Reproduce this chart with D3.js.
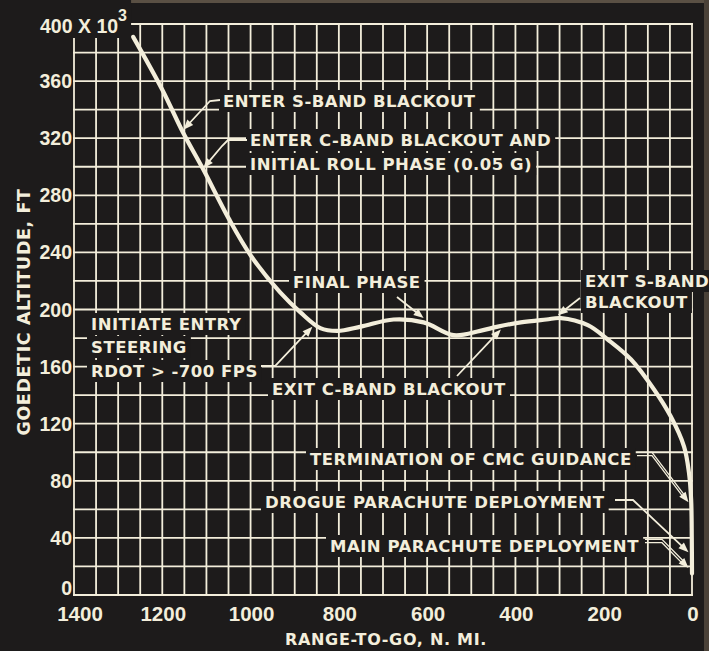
<!doctype html>
<html>
<head>
<script src="https://cdnjs.cloudflare.com/ajax/libs/d3/7.8.5/d3.min.js"></script>
<style>
  body { margin: 0; background: #1d1b1b; }
  svg { display: block; }
</style>
</head>
<body>
<svg width="709" height="651"></svg>
<script>
// trajectory: range-to-go (n. mi.) vs altitude (x 1000 ft)
var rangeToGo = [1266, 1200, 1153, 1107, 1050, 1000, 933, 887, 842, 803, 750, 676, 608, 540, 480, 440, 388, 330, 297, 236, 191, 138, 86, 48, 18, 7, 2, 0.5, 0];
var altitude  = [ 391,  354,  324,  298,  264,  238, 212, 198, 187, 185, 188, 193, 191, 182, 185, 188, 191, 193, 194, 189, 179, 165, 144, 125, 104, 86, 67, 40, 15];

var xTickLabels = [1400, 1200, 1000, 800, 600, 400, 200, 0];
var yTickLabels = [0, 40, 80, 120, 160, 200, 240, 280, 320, 360];

// events marked by arrows on the curve
var eventText = [
  ["ENTER S-BAND BLACKOUT"],
  ["ENTER C-BAND BLACKOUT AND", "INITIAL ROLL PHASE (0.05 G)"],
  ["FINAL PHASE"],
  ["INITIATE ENTRY", "STEERING", "RDOT > -700 FPS"],
  ["EXIT C-BAND BLACKOUT"],
  ["EXIT S-BAND", "BLACKOUT"],
  ["TERMINATION OF CMC GUIDANCE"],
  ["DROGUE PARACHUTE DEPLOYMENT"],
  ["MAIN PARACHUTE DEPLOYMENT"]
];
var eventRange = [1152, 1107, 608, 860, 433, 304, 8, 8, 8];
var eventAlt   = [ 326,  299, 194, 188, 186, 196, 65, 30, 19];

// label placement (pixels): text left x, baselines, leader waypoints, double leader
var labelLayout = [
  {x: 223, y: [107], leader: [[220, 100], [210, 101]]},
  {x: 250, y: [146, 170], leader: [[247, 140], [228, 140], [222, 146]]},
  {x: 293, y: [288], leader: [[397, 297]]},
  {x: 91, y: [330, 353, 377], leader: [[261, 366], [275, 366]]},
  {x: 272, y: [395], leader: [[457, 376]]},
  {x: 585, y: [287, 308], leader: [[580, 298]]},
  {x: 310, y: [465], leader: [[637, 454], [652, 454]], dbl: true},
  {x: 265, y: [508], leader: [[615, 500], [633, 500]]},
  {x: 330, y: [552], leader: [[645, 541], [662, 541]], dbl: true}
];

var ink = "#f3eedb", bg = "#1d1b1b";
var labelFont = "'DejaVu Sans', sans-serif";
var tickFont = "'Liberation Sans Narrow', 'Liberation Sans', sans-serif";

var svg = d3.select("svg");
svg.append("rect").attr("width", 709).attr("height", 651).attr("fill", bg);
// photo edge
svg.append("rect").attr("x", 0).attr("y", 0).attr("width", 709).attr("height", 3).attr("fill", "#5a5044");
svg.append("rect").attr("x", 704).attr("y", 0).attr("width", 5).attr("height", 651).attr("fill", "#4a4138");

var x = d3.scaleLinear().domain([1400, 0]).range([74, 692]);
var y = d3.scaleLinear().domain([0, 400]).range([595, 24]);

// grid
var grid = svg.append("g").attr("stroke", ink).attr("stroke-width", 1.8);
grid.selectAll(".v").data(d3.range(0, 1401, 50)).enter().append("line")
    .attr("x1", function(d) { return x(d); }).attr("x2", function(d) { return x(d); })
    .attr("y1", y(0) + 0.9).attr("y2", y(400) - 0.9);
grid.selectAll(".h").data(d3.range(0, 401, 20)).enter().append("line")
    .attr("y1", function(d) { return y(d); }).attr("y2", function(d) { return y(d); })
    .attr("x1", x(1400) - 0.9).attr("x2", x(0) + 0.9);

// curve
var line = d3.line()
    .x(function(d, i) { return x(rangeToGo[i]); })
    .y(function(d, i) { return y(altitude[i]); })
    .curve(d3.curveCatmullRom.alpha(0.5));
svg.append("path").datum(altitude).attr("d", line)
    .attr("fill", "none").attr("stroke", ink).attr("stroke-width", 4.2)
    .attr("stroke-linecap", "round");

// tick labels
svg.append("g").selectAll("text").data(yTickLabels).enter().append("text")
    .attr("x", 72).attr("y", function(d) { return y(d) + (d == 0 ? 0 : 7); })
    .attr("text-anchor", "end").attr("fill", ink)
    .attr("font-family", tickFont).attr("font-weight", "bold").attr("font-size", 19.5)
    .text(function(d) { return d; });

svg.append("g").selectAll("text").data(xTickLabels).enter().append("text")
    .attr("x", function(d) { return x(d) + (d == 1400 ? 6 : 1); }).attr("y", 621)
    .attr("text-anchor", "middle").attr("fill", ink)
    .attr("font-family", tickFont).attr("font-weight", "bold").attr("font-size", 20.5)
    .text(function(d) { return d; });

// top label "400 X 10^3" on a black patch
var topG = svg.append("g");
var topBox = topG.append("rect").attr("fill", bg);
var topText = topG.append("text").attr("x", 40).attr("y", 33).attr("fill", ink)
    .attr("font-family", tickFont).attr("font-weight", "bold").attr("font-size", 19.5);
topText.append("tspan").text("400 X 10");
topText.append("tspan").attr("dy", -12).attr("font-size", 16).text("3");
var tb = topText.node().getBBox();
topBox.attr("x", 0).attr("y", 0).attr("width", tb.x + tb.width + 4).attr("height", 38);

// annotations
var ann = svg.append("g");
eventText.forEach(function(lines, i) {
  var L = labelLayout[i];
  var g = ann.append("g");
  var boxes = g.append("g");
  var texts = lines.map(function(s, j) {
    return g.append("text").attr("x", L.x).attr("y", L.y[j]).attr("fill", ink)
      .attr("font-family", labelFont).attr("font-weight", "bold").attr("font-size", 16.5)
      .attr("letter-spacing", 0.5).text(s);
  });
  texts.forEach(function(t) {
    var b = t.node().getBBox();
    boxes.append("rect").attr("x", b.x - 4).attr("y", b.y - 2)
      .attr("width", b.width + 8).attr("height", b.height + 3).attr("fill", bg);
  });
  var tip = [x(eventRange[i]), y(eventAlt[i])];
  var pts = L.leader.concat([tip]);
  var prev = pts[pts.length - 2];
  var ang = Math.atan2(tip[1] - prev[1], tip[0] - prev[0]);
  var back = [tip[0] - 7 * Math.cos(ang), tip[1] - 7 * Math.sin(ang)];
  var shaft = pts.slice(0, -1).concat([back]);
  var offs = L.dbl ? [-1.7, 1.7] : [0];
  offs.forEach(function(o) {
    g.append("path").attr("d", d3.line()(shaft.map(function(p) { return [p[0], p[1] + o]; })))
      .attr("fill", "none").attr("stroke", ink).attr("stroke-width", L.dbl ? 1.3 : 1.8);
  });
  var len = 10, w = 4;
  var bx = tip[0] - len * Math.cos(ang), by = tip[1] - len * Math.sin(ang);
  g.append("path").attr("d", d3.line()([
      tip,
      [bx + w * Math.sin(ang), by - w * Math.cos(ang)],
      [bx - w * Math.sin(ang), by + w * Math.cos(ang)]
    ]) + "Z").attr("fill", ink);
});

// axis titles
svg.append("text").attr("x", 386).attr("y", 645).attr("text-anchor", "middle")
    .attr("fill", ink).attr("font-family", labelFont).attr("font-weight", "bold")
    .attr("font-size", 16).attr("letter-spacing", 0.7).text("RANGE-TO-GO, N. MI.");
svg.append("text").attr("transform", "translate(30,312) rotate(-90)").attr("text-anchor", "middle")
    .attr("fill", ink).attr("font-family", labelFont).attr("font-weight", "bold")
    .attr("font-size", 17.5).attr("letter-spacing", 0.6).text("GOEDETIC ALTITUDE, FT");
</script>
</body>
</html>
